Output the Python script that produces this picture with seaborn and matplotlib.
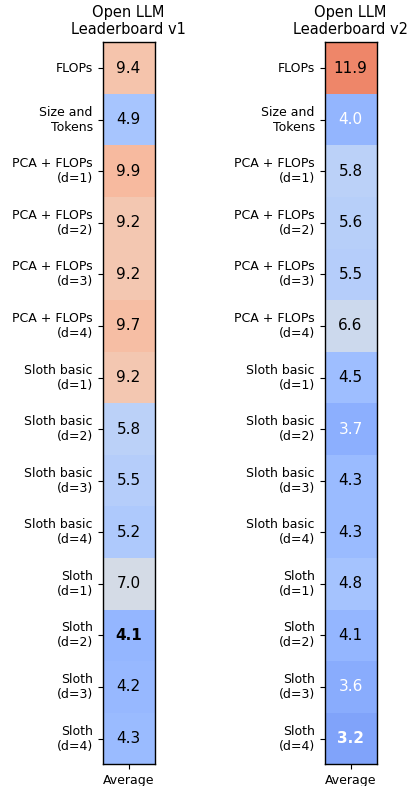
import pandas as pd
import numpy as np
import matplotlib
matplotlib.use("Agg")
import matplotlib.pyplot as plt
import seaborn as sns

# Row labels (methods)
methods = ["FLOPs", "Size and\nTokens",
           "PCA + FLOPs\n(d=1)", "PCA + FLOPs\n(d=2)", "PCA + FLOPs\n(d=3)", "PCA + FLOPs\n(d=4)",
           "Sloth basic\n(d=1)", "Sloth basic\n(d=2)", "Sloth basic\n(d=3)", "Sloth basic\n(d=4)",
           "Sloth\n(d=1)", "Sloth\n(d=2)", "Sloth\n(d=3)", "Sloth\n(d=4)"]

# Average error per leaderboard
v1_avg = [9.4, 4.9, 9.9, 9.2, 9.2, 9.7, 9.2, 5.8, 5.5, 5.2, 7.0, 4.1, 4.2, 4.3]
v2_avg = [11.9, 4.0, 5.8, 5.6, 5.5, 6.6, 4.5, 3.7, 4.3, 4.3, 4.8, 4.1, 3.6, 3.2]

titles = ["Open LLM\nLeaderboard v1", "Open LLM\nLeaderboard v2"]

fig = plt.figure(figsize=(4.11, 7.86), dpi=100)
W, H = 411, 786
lefts = [102.5, 324.5]
top, bottom = 42.3, 764.3

for left, vals, title in zip(lefts, [v1_avg, v2_avg], titles):
    ax = fig.add_axes([left / W, (H - bottom) / H, 52 / W, (bottom - top) / H])
    df = pd.DataFrame({"Average": vals}, index=methods)
    sns.heatmap(df, ax=ax, cmap="coolwarm", vmin=0, vmax=15, cbar=False,
                annot=True, fmt=".1f", annot_kws={"fontsize": 11})
    # white text on the darker blue cells, bold for the best (lowest) value
    best = int(np.argmin(vals))
    for i, t in enumerate(ax.texts):
        t.set_color("white" if vals[i] < 4.05 else "black")
        if i == best:
            t.set_fontweight("bold")
    for s in ax.spines.values():
        s.set_visible(True)
        s.set_linewidth(1.0)
    ax.set_title(title, fontsize=10.5)
    ax.set_yticklabels(methods, rotation=0, fontsize=9, ha="right")
    ax.tick_params(axis="x", labelsize=9)

fig.savefig("out.png", dpi=100)
